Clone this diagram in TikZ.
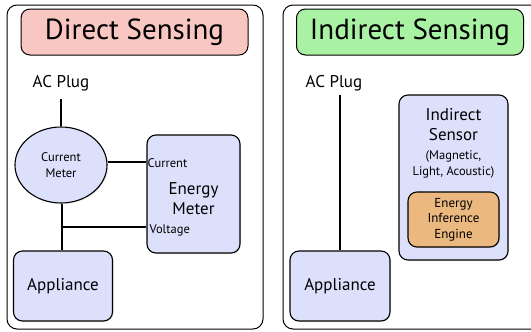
\documentclass[tikz,border=0pt]{standalone}
\usepackage{fontspec}
\setmainfont{PT Sans}
\usetikzlibrary{positioning,shapes.geometric,shadows}
\definecolor{directpink}{HTML}{F9C7C1}
\definecolor{indirectgreen}{HTML}{A9F1A3}
\definecolor{devblue}{HTML}{DDE0FA}
\definecolor{engineorange}{HTML}{EBB87F}
\tikzset{
  panel/.style={draw, line width=1pt, rounded corners=10pt, inner sep=0pt},
  titlebox/.style={draw, line width=1pt, rounded corners=9pt, minimum width=227pt,
    minimum height=46pt, font=\fontsize{29}{32}\selectfont},
  devbox/.style={draw, line width=1.1pt, rounded corners=9pt, fill=devblue, align=center,
    inner sep=0pt, font=\fontsize{17}{20}\selectfont,
    drop shadow={opacity=0.2, shadow xshift=1pt, shadow yshift=-1pt}},
  bigtext/.style={align=center, inner sep=0pt, font=\fontsize{17}{20}\selectfont},
  smalltext/.style={align=center, inner sep=1pt, font=\fontsize{12.5}{14}\selectfont},
  notetext/.style={align=center, inner sep=0pt, font=\fontsize{12.5}{15.5}\selectfont},
  wire/.style={line width=1.6pt}
}

\begin{document}
\begin{tikzpicture}[x=1pt, y=-1pt]
    \useasboundingbox (0,0) rectangle (531,332);
    % direct sensing
    \node[panel, minimum width=256pt, minimum height=324pt] (directpanel) at (135,167) {};
    \node[titlebox, fill=directpink] (directtitle) at (134.5,32) {Direct Sensing};
    \node[bigtext] (directplug) at (61,83) {AC Plug};
    \node[devbox, ellipse, minimum width=92pt, minimum height=76pt, font=\fontsize{12.5}{16}\selectfont] (curmeter) at (61,165) {Current\\Meter};
    \node[devbox, minimum width=93pt, minimum height=118pt] (emeter) at (193.5,194) {};
    \node[bigtext] (emetertext) at ([yshift=-5pt]emeter.center) {Energy\\Meter};
    \node[smalltext, anchor=west] (curlabel) at ([yshift=31pt]emeter.west) {Current};
    \node[smalltext, anchor=west] (voltlabel) at ([xshift=2pt, yshift=-36pt]emeter.west) {Voltage};
    \node[devbox, minimum width=99pt, minimum height=70pt] (directappl) at (63,286) {Appliance};
    \coordinate (vtap) at (62,227);
    \draw[wire] (directplug.south |- 0,99) -- (curmeter.north);
    \draw[wire] ([yshift=3pt]curmeter.east) -- ([yshift=3pt]curmeter.east -| emeter.west);
    \draw[wire] (curmeter.south -| vtap) -- (directappl.north -| vtap);
    \draw[wire] (vtap) -- (vtap -| emeter.west);
    % indirect sensing
    \node[panel, minimum width=260pt, minimum height=324pt] (indirectpanel) at (413,167) {};
    \node[titlebox, fill=indirectgreen] (indirecttitle) at (410,32) {Indirect Sensing};
    \node[bigtext] (indirectplug) at (334,83) {AC Plug};
    \node[devbox, minimum width=100pt, minimum height=70pt] (indirectappl) at (340,286) {Appliance};
    \node[devbox, minimum width=109pt, minimum height=165pt] (sensor) at (453.5,177.5) {};
    \node[bigtext] (sensortext) at (453.5,125) {Indirect\\Sensor};
    \node[notetext] (sensornote) at (453.5,164.5) {(Magnetic,\\Light, Acoustic)};
    \node[devbox, fill=engineorange, minimum width=91pt, minimum height=55pt, font=\fontsize{13}{15.5}\selectfont] (engine) at (453.5,219.5) {Energy\\Inference\\Engine};
    \draw[wire] (indirectappl.north |- 0,95) -- (indirectappl.north);
\end{tikzpicture}
\end{document}
